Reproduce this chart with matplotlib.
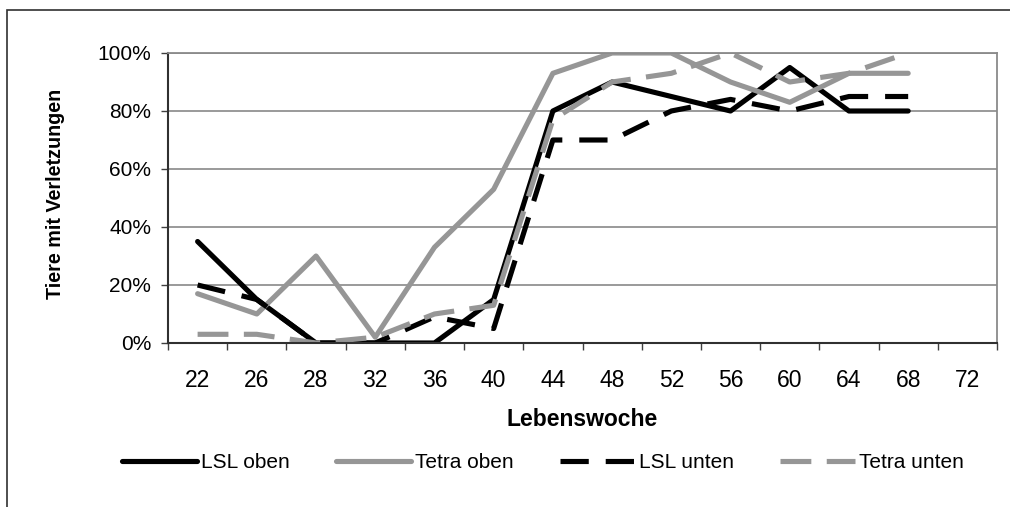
import matplotlib
matplotlib.use("Agg")
import matplotlib.pyplot as plt
from matplotlib.patches import Rectangle
import numpy as np

weeks = ["22", "26", "28", "32", "36", "40", "44", "48", "52", "56", "60", "64", "68", "72"]
lsl_oben = [35, 15, 0, 0, 0, 15, 80, 90, 85, 80, 95, 80, 80]
tetra_oben = [17, 10, 30, 2, 33, 53, 93, 100, 100, 90, 83, 93, 93]
lsl_unten = [20, 15, 0, 0, 9, 5, 70, 70, 80, 84, 80, 85, 85]
tetra_unten = [3, 3, 0, 2, 10, 13, 77, 90, 93, 100, 90, 93, 100]
yticks = [0, 20, 40, 60, 80, 100]

plt.rcParams['font.family'] = ['Liberation Sans', 'DejaVu Sans']

W, H = 1010, 507
fig = plt.figure(figsize=(W / 100, H / 100), dpi=100)
ax = fig.add_axes([168 / W, 1 - 343 / H, (997 - 168) / W, (343 - 53) / H])

gray = "#969696"
lw = 3.7
x = np.arange(len(lsl_oben))
l1, = ax.plot(x, lsl_oben, color="black", lw=lw, solid_capstyle="round", label="LSL oben")
l2, = ax.plot(x, tetra_oben, color=gray, lw=lw, solid_capstyle="round", label="Tetra oben")
l3, = ax.plot(x, lsl_unten, color="black", lw=lw, linestyle=(0, (5.5, 3.3)), label="LSL unten")
l4, = ax.plot(x, tetra_unten, color=gray, lw=lw, linestyle=(0, (6, 3)), label="Tetra unten")

ax.set_xlim(-0.5, len(weeks) - 0.5)
ax.set_ylim(0, 100)
ax.set_yticks(yticks)
ax.set_yticklabels([f"{v}%" for v in yticks], fontsize=15)
ax.set_xticks(np.arange(len(weeks) + 1) - 0.5)
ax.set_xticklabels([])
ax.set_xticks(np.arange(len(weeks)), minor=True)
ax.set_xticklabels(weeks, minor=True, fontsize=16.5)
ax.tick_params(axis="x", which="major", length=5, width=1, color="#404040", direction="out")
ax.tick_params(axis="x", which="minor", length=0, pad=19)
ax.tick_params(axis="y", length=5, width=1, color="#404040", pad=7)

for v in yticks[1:]:
    ax.axhline(v, color="#7f7f7f", lw=1.1, zorder=0)

for s in ["top", "right"]:
    ax.spines[s].set_color("#8a8a8a")
    ax.spines[s].set_linewidth(1.3)
for s in ["left", "bottom"]:
    ax.spines[s].set_color("#303030")
    ax.spines[s].set_linewidth(1.5)

ax.set_ylabel("Tiere mit Verletzungen", fontsize=14.2, fontweight="bold", labelpad=0)
ax.yaxis.set_label_coords((65 - 168) / (997 - 168), (343 - 194) / 290)
ax.set_xlabel("Lebenswoche", fontsize=16.5, fontweight="bold")
ax.xaxis.set_label_coords(0.5, -(420 - 343) / 290)
ax.xaxis.label.set_va("center")

leg = fig.legend(handles=[l1, l2, l3, l4], loc="center",
                 bbox_to_anchor=(543 / W, 1 - 463 / H), ncol=4, frameon=False,
                 fontsize=15, handlelength=3.6, handletextpad=0.2, columnspacing=2.2)

fig.patches.append(Rectangle((7 / W, -0.1), 1.2, 1 - 10 / H + 0.1, transform=fig.transFigure,
                             fill=False, edgecolor="#303030", lw=1.2, figure=fig))

fig.savefig("out.png", dpi=100)
